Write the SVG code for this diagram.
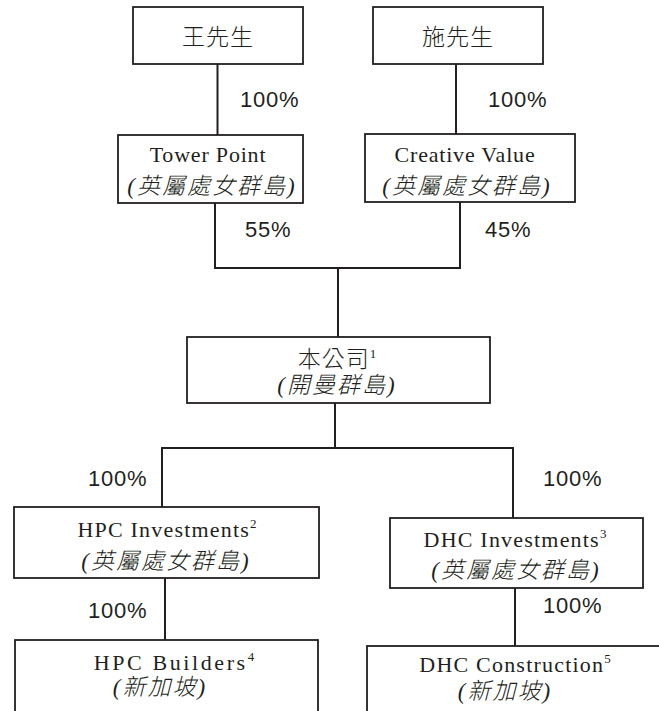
<svg xmlns="http://www.w3.org/2000/svg" width="659" height="711" viewBox="0 0 659 711">
<style>
.box{fill:#fff;stroke:#231f20;stroke-width:1.8}
.con{fill:none;stroke:#231f20;stroke-width:2}
.name{font-family:"Liberation Serif","Noto Sans CJK TC",serif;font-size:22px;letter-spacing:0.8px;fill:#231f20;text-anchor:middle}
.cjk{font-family:"Liberation Serif","Noto Sans CJK TC",serif;font-size:23px;letter-spacing:1px;fill:#231f20;text-anchor:middle;font-weight:300}
.loc{font-family:"Liberation Serif","Noto Sans CJK TC",serif;font-size:23px;letter-spacing:2px;fill:#231f20;text-anchor:middle;font-style:italic;font-weight:300}
.sup{font-size:13px;letter-spacing:0}
.pct{font-family:"Liberation Sans",Arial,sans-serif;font-size:22px;letter-spacing:0.8px;fill:#231f20}
</style>
<rect width="659" height="711" fill="#fff"/>
<g id="connectors">
<path class="con" d="M217.5 64V135"/>
<path class="con" d="M456 64V135"/>
<path class="con" d="M215 203V268H460V202"/>
<path class="con" d="M338 268V337"/>
<path class="con" d="M335 403V448"/>
<path class="con" d="M162 507V448H513V518"/>
<path class="con" d="M165 578V640"/>
<path class="con" d="M515 588V646"/>
<text class="pct" x="240" y="107">100%</text>
<text class="pct" x="488" y="107">100%</text>
<text class="pct" x="245" y="237">55%</text>
<text class="pct" x="485" y="237">45%</text>
<text class="pct" x="88" y="486">100%</text>
<text class="pct" x="543" y="486">100%</text>
<text class="pct" x="88" y="618">100%</text>
<text class="pct" x="543" y="613">100%</text>
</g>
<g id="wang">
<rect class="box" x="133" y="7" width="170" height="57"/>
<text class="cjk" x="218" y="45">王先生</text>
</g>
<g id="shi">
<rect class="box" x="373" y="7" width="170" height="57"/>
<text class="cjk" x="458" y="45">施先生</text>
</g>
<g id="tower">
<rect class="box" x="118" y="135" width="185" height="68"/>
<text class="name" x="208" y="162">Tower Point</text>
<text class="loc" x="212" y="194">(英屬處女群島)</text>
</g>
<g id="creative">
<rect class="box" x="365" y="134" width="210" height="68"/>
<text class="name" x="465" y="162">Creative Value</text>
<text class="loc" x="467" y="194">(英屬處女群島)</text>
</g>
<g id="company">
<rect class="box" x="187" y="337" width="303" height="66"/>
<text class="cjk" x="337" y="367">本公司<tspan class="sup" dy="-9">1</tspan></text>
<text class="loc" x="337" y="393">(開曼群島)</text>
</g>
<g id="hpcinv">
<rect class="box" x="14" y="507" width="305" height="71"/>
<text class="name" x="167" y="537" style="letter-spacing:1.2px">HPC Investments<tspan class="sup" dy="-9">2</tspan></text>
<text class="loc" x="166" y="569">(英屬處女群島)</text>
</g>
<g id="dhcinv">
<rect class="box" x="390" y="518" width="253" height="70"/>
<text class="name" x="515" y="547" style="letter-spacing:1.2px">DHC Investments<tspan class="sup" dy="-9">3</tspan></text>
<text class="loc" x="516" y="578">(英屬處女群島)</text>
</g>
<g id="hpcbld">
<rect class="box" x="15" y="640" width="303" height="80"/>
<text class="name" x="174" y="670" style="letter-spacing:2.6px">HPC Builders<tspan class="sup" dy="-9">4</tspan></text>
<text class="loc" x="160" y="695">(新加坡)</text>
</g>
<g id="dhccon">
<rect class="box" x="367" y="646" width="320" height="80"/>
<text class="name" x="515" y="672" style="letter-spacing:1.2px">DHC Construction<tspan class="sup" dy="-9">5</tspan></text>
<text class="loc" x="505" y="699">(新加坡)</text>
</g>
</svg>
